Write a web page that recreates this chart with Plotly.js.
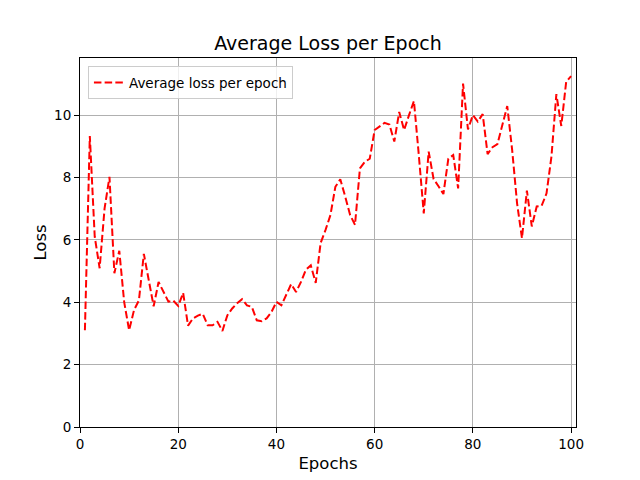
<!DOCTYPE html>
<html>
<head>
<meta charset="utf-8">
<script src="https://cdn.plot.ly/plotly-3.0.1.min.js"></script>
<style>html,body{margin:0;padding:0;background:#fff;}#chart{width:640px;height:480px;}</style>
</head>
<body>
<div id="chart"></div>
<script>
const epochs = Array.from({length: 100}, (_, i) => i + 1);
const avgLoss = [
  3.10, 9.33, 6.10, 5.09, 7.00, 8.02, 4.93, 5.65, 4.00, 3.10,
  3.75, 4.06, 5.55, 4.70, 3.87, 4.65, 4.35, 4.02, 4.05, 3.88,
  4.30, 3.25, 3.48, 3.57, 3.63, 3.26, 3.26, 3.37, 3.08, 3.58,
  3.80, 3.97, 4.10, 3.90, 3.85, 3.42, 3.39, 3.48, 3.69, 4.01,
  3.90, 4.22, 4.58, 4.33, 4.65, 5.04, 5.18, 4.62, 5.90, 6.32,
  6.80, 7.70, 7.94, 7.39, 6.80, 6.48, 8.29, 8.50, 8.60, 9.52,
  9.63, 9.75, 9.70, 9.15, 10.10, 9.52, 10.00, 10.45, 8.70, 6.85,
  8.83, 7.95, 7.72, 7.47, 8.60, 8.72, 7.65, 11.01, 9.54, 10.00,
  9.79, 10.03, 8.75, 8.97, 9.07, 9.68, 10.29, 8.88, 7.17, 6.05,
  7.58, 6.43, 7.07, 7.09, 7.49, 8.67, 10.67, 9.65, 11.07, 11.25
];
const xTicks = [0, 20, 40, 60, 80, 100];
const yTicks = [0, 2, 4, 6, 8, 10];

const font = 'DejaVu Sans, sans-serif';
const trace = {
  x: epochs, y: avgLoss, type: 'scatter', mode: 'lines',
  name: 'Average loss per epoch',
  line: {color: '#ff0000', width: 2, dash: '7.5px,3.2px'}
};
const axisCommon = {
  showline: true, linecolor: '#000', linewidth: 1, mirror: true,
  ticks: 'outside', ticklen: 5, tickwidth: 1, tickcolor: '#000',
  showgrid: true, gridcolor: '#b0b0b0', gridwidth: 1,
  zeroline: false, tickfont: {family: font, size: 13.5, color: '#000'}
};
const layout = {
  width: 640, height: 480,
  margin: {l: 80, r: 64, t: 58, b: 53},
  paper_bgcolor: '#fff', plot_bgcolor: '#fff',
  title: {text: 'Average Loss per Epoch', font: {family: font, size: 19, color: '#000'},
          x: 0.5, xref: 'paper', y: 1 - 43/480, yref: 'container', yanchor: 'middle'},
  xaxis: Object.assign({}, axisCommon, {
    range: [0, 101], tickvals: xTicks,
    title: {text: 'Epochs', font: {family: font, size: 16.5, color: '#000'}, standoff: 6}
  }),
  yaxis: Object.assign({}, axisCommon, {
    range: [0, 11.83], tickvals: yTicks,
    title: {text: 'Loss', font: {family: font, size: 16.5, color: '#000'}, standoff: 3}
  }),
  showlegend: true,
  legend: {x: 0.016, y: 0.978, xanchor: 'left', yanchor: 'top',
           bgcolor: 'rgba(255,255,255,0.8)', bordercolor: '#cccccc', borderwidth: 1,
           font: {family: font, size: 13.5, color: '#000'}}
};
Plotly.newPlot('chart', [trace], layout, {displayModeBar: false, staticPlot: true});
</script>
</body>
</html>
